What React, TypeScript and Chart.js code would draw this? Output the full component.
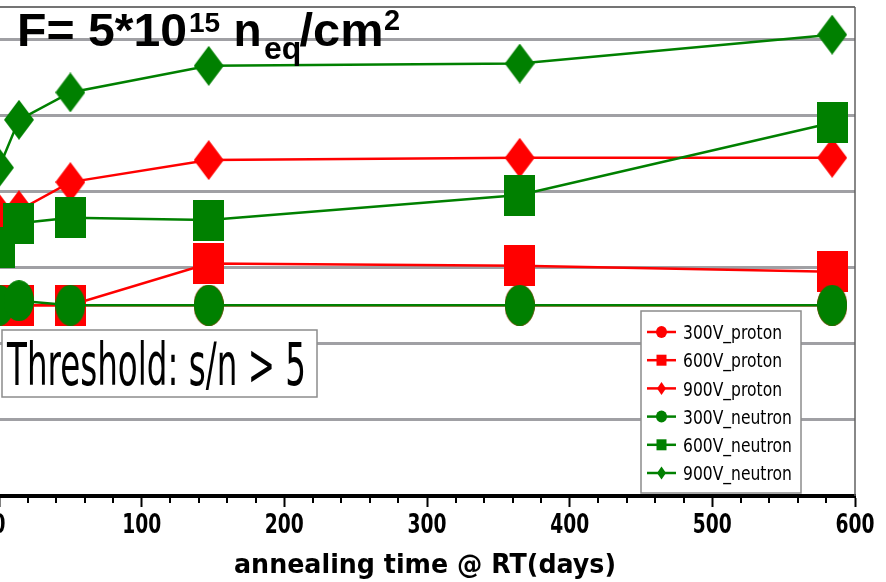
import React, { useEffect, useRef } from 'react';
import { Chart, registerables } from 'chart.js';

Chart.register(...registerables);

// ---- data ----
const days = [0, 14, 50, 147, 365, 584];
const seriesNames = ['300V_proton', '600V_proton', '900V_proton', '300V_neutron', '600V_neutron', '900V_neutron'];
const v300proton = [2.51, 2.51, 2.51, 2.51, 2.51, 2.51];
const v600proton = [2.51, 2.51, 2.51, 3.06, 3.03, 2.95];
const v900proton = [3.72, 3.76, 4.13, 4.42, 4.45, 4.45];
const v300neutron = [2.51, 2.57, 2.51, 2.51, 2.51, 2.51];
const v600neutron = [3.27, 3.59, 3.66, 3.63, 3.96, 4.91];
const v900neutron = [4.32, 4.95, 5.31, 5.66, 5.69, 6.07];
const xTickLabels = ['0', '100', '200', '300', '400', '500', '600'];
const xTickStep = 100;
const xMinorStep = 20;
const xMin = 0;
const xMax = 600;
const yMin = 0;
const yMax = 6.434;
const titleParts = ['F= 5*10', '15', 'n', 'eq', '/cm', '2'];
const thresholdText = 'Threshold: s/n > 5';
const xTitle = 'annealing time @ RT(days)';

const RED = '#ff0000';
const GREEN = '#008000';
const OFF = 30; // canvas shifted left by this many px
const DV = "'DejaVu Sans', Verdana, sans-serif";
const SANS = "'Liberation Sans', Arial, sans-serif";

function makeMarker(shape: string, color: string, w: number, h: number): HTMLCanvasElement {
  const c = document.createElement('canvas');
  c.width = w;
  c.height = h;
  const ctx = c.getContext('2d')!;
  ctx.fillStyle = color;
  ctx.beginPath();
  if (shape === 'circle') ctx.ellipse(w / 2, h / 2, w / 2, h / 2, 0, 0, Math.PI * 2);
  else if (shape === 'rect') ctx.rect(0, 0, w, h);
  else {
    ctx.moveTo(w / 2, 0);
    ctx.lineTo(w, h / 2);
    ctx.lineTo(w / 2, h);
    ctx.lineTo(0, h / 2);
    ctx.closePath();
  }
  ctx.fill();
  return c;
}

// draw text; width = target width (scales horizontally), or sx = explicit scale factor
function drawFit(
  ctx: CanvasRenderingContext2D,
  text: string,
  x: number,
  y: number,
  font: string,
  width?: number,
  align: CanvasTextAlign = 'left',
  sx?: number
) {
  ctx.save();
  ctx.font = font;
  ctx.textBaseline = 'alphabetic';
  ctx.textAlign = align;
  ctx.fillStyle = '#000';
  const w = ctx.measureText(text).width;
  ctx.translate(x, y);
  if (width) ctx.scale(width / w, 1);
  else if (sx) ctx.scale(sx, 1);
  ctx.fillText(text, 0, 0);
  ctx.restore();
}

function drawShape(ctx: CanvasRenderingContext2D, shape: string, cx: number, cy: number, w: number, h: number) {
  ctx.beginPath();
  if (shape === 'circle') ctx.ellipse(cx, cy, w / 2, h / 2, 0, 0, Math.PI * 2);
  else if (shape === 'rect') ctx.rect(cx - w / 2, cy - h / 2, w, h);
  else {
    ctx.moveTo(cx, cy - h / 2);
    ctx.lineTo(cx + w / 2, cy);
    ctx.lineTo(cx, cy + h / 2);
    ctx.lineTo(cx - w / 2, cy);
    ctx.closePath();
  }
  ctx.fill();
}

const shapes = ['circle', 'rect', 'diamond', 'circle', 'rect', 'diamond'];
const colors = [RED, RED, RED, GREEN, GREEN, GREEN];

const overlayPlugin = {
  id: 'overlay',
  afterDraw(chart: any) {
    const ctx: CanvasRenderingContext2D = chart.ctx;
    const area = chart.chartArea;
    const xs = chart.scales.x;

    // minor ticks
    ctx.save();
    ctx.strokeStyle = '#000';
    ctx.lineWidth = 2;
    for (let v = xMin + xMinorStep; v < xMax; v += xMinorStep) {
      if (v % xTickStep === 0) continue;
      const px = Math.round(xs.getPixelForValue(v));
      ctx.beginPath();
      ctx.moveTo(px, area.bottom);
      ctx.lineTo(px, area.bottom + 7);
      ctx.stroke();
    }
    // right border
    ctx.strokeStyle = '#606060';
    ctx.lineWidth = 1.5;
    ctx.beginPath();
    ctx.moveTo(area.right, area.top);
    ctx.lineTo(area.right, area.bottom);
    ctx.stroke();
    ctx.restore();

    // x tick labels
    ctx.save();
    ctx.font = `bold 27px ${DV}`;
    const tsx = 39 / ctx.measureText('100').width;
    ctx.restore();
    xTickLabels.forEach((lab) => {
      const v = Number(lab);
      drawFit(ctx, lab, xs.getPixelForValue(v), 533, `bold 27px ${DV}`, undefined, 'center', tsx);
    });

    // title
    drawFit(ctx, titleParts[0], 17 + OFF, 45.7, `bold 46px ${SANS}`, 170);
    drawFit(ctx, titleParts[1], 189 + OFF, 32.3, `bold 28px ${SANS}`);
    drawFit(ctx, titleParts[2], 233.5 + OFF, 45.7, `bold 46px ${SANS}`);
    drawFit(ctx, titleParts[3], 264 + OFF, 59, `bold 32px ${SANS}`);
    drawFit(ctx, titleParts[4], 299.5 + OFF, 45.7, `bold 46px ${SANS}`, 84);
    drawFit(ctx, titleParts[5], 384 + OFF, 30, `bold 29px ${SANS}`);

    // threshold box
    ctx.save();
    ctx.fillStyle = '#fff';
    ctx.fillRect(2 + OFF, 330, 315, 67);
    ctx.strokeStyle = '#8c8c8c';
    ctx.lineWidth = 1.5;
    ctx.strokeRect(2 + OFF, 330, 315, 67);
    ctx.restore();
    drawFit(ctx, thresholdText, 7 + OFF, 385, `58px ${DV}`, 299);

    // legend
    ctx.save();
    ctx.fillStyle = '#fff';
    ctx.fillRect(641 + OFF, 311, 160, 182);
    ctx.strokeStyle = '#8c8c8c';
    ctx.lineWidth = 1.5;
    ctx.strokeRect(641 + OFF, 311, 160, 182);
    ctx.font = `19.5px ${DV}`;
    const lsx = 99 / ctx.measureText(seriesNames[0]).width;
    const mw = [11, 10, 9, 11, 10, 9];
    const mh = [12, 11, 13, 12, 11, 13];
    for (let i = 0; i < seriesNames.length; i++) {
      const cy = 332 + i * 28.2;
      ctx.strokeStyle = colors[i];
      ctx.fillStyle = colors[i];
      ctx.lineWidth = 2.5;
      ctx.beginPath();
      ctx.moveTo(647 + OFF, cy);
      ctx.lineTo(676 + OFF, cy);
      ctx.stroke();
      drawShape(ctx, shapes[i], 661.5 + OFF, cy, mw[i], mh[i]);
      drawFit(ctx, seriesNames[i], 683 + OFF, cy + 7.2, `19.5px ${DV}`, undefined, 'left', lsx);
    }
    ctx.restore();

    // x axis title
    drawFit(ctx, xTitle, 234 + OFF, 573, `bold 27px ${DV}`, 382);
  },
};

export default function App() {
  const ref = useRef<HTMLCanvasElement | null>(null);

  useEffect(() => {
    if (!ref.current) return;
    const seriesValues = [v300proton, v600proton, v900proton, v300neutron, v600neutron, v900neutron];
    const sizes = [
      [30, 41],
      [31, 41],
      [30, 40],
      [30, 41],
      [31, 41],
      [30, 40],
    ];
    const datasets = seriesNames.map((name, i) => ({
      label: name,
      data: days.map((d, k) => ({ x: d, y: seriesValues[i][k] })),
      borderColor: colors[i],
      backgroundColor: colors[i],
      borderWidth: 2.5,
      pointStyle: makeMarker(shapes[i], colors[i], sizes[i][0], sizes[i][1]),
      pointRadius: 20,
      pointHoverRadius: 20,
      tension: 0,
      order: i < 3 ? 1 : 0,
    }));

    const chart = new Chart(ref.current, {
      type: 'line',
      data: { datasets },
      options: {
        animation: false,
        responsive: false,
        devicePixelRatio: 1,
        layout: { autoPadding: false, padding: { top: 7, right: 31, bottom: 0, left: 0 } },
        plugins: { legend: { display: false }, tooltip: { enabled: false }, title: { display: false } },
        events: [],
        scales: {
          x: {
            type: 'linear',
            min: xMin,
            max: xMax,
            ticks: { display: false, stepSize: xTickStep },
            grid: {
              drawOnChartArea: false,
              drawTicks: true,
              tickLength: 11,
              tickWidth: 2,
              tickColor: '#000',
            },
            border: { display: true, color: '#000', width: 4 },
            afterFit: (scale: any) => {
              scale.height = 86;
            },
          },
          y: {
            type: 'linear',
            min: yMin,
            max: yMax,
            ticks: { display: false, stepSize: 1 },
            grid: {
              drawTicks: false,
              color: (c: any) =>
                c.tick && c.tick.value === 0 ? 'rgba(0,0,0,0)' : c.tick && c.tick.value > yMax - 0.01 ? '#747474' : '#a0a0a4',
              lineWidth: (c: any) => (c.tick && c.tick.value > yMax - 0.01 ? 2 : 3),
            },
            border: { display: false },
            afterFit: (scale: any) => {
              scale.width = 29;
            },
          },
        },
      } as any,
      plugins: [overlayPlugin],
    });
    return () => chart.destroy();
  }, []);

  return (
    <div style={{ position: 'fixed', left: 0, top: 0, width: 886, height: 582, overflow: 'hidden', background: '#fff' }}>
      <canvas
        ref={ref}
        width={886 + OFF}
        height={582}
        style={{ position: 'absolute', left: -OFF, top: 0, width: 886 + OFF, height: 582 }}
      />
    </div>
  );
}
